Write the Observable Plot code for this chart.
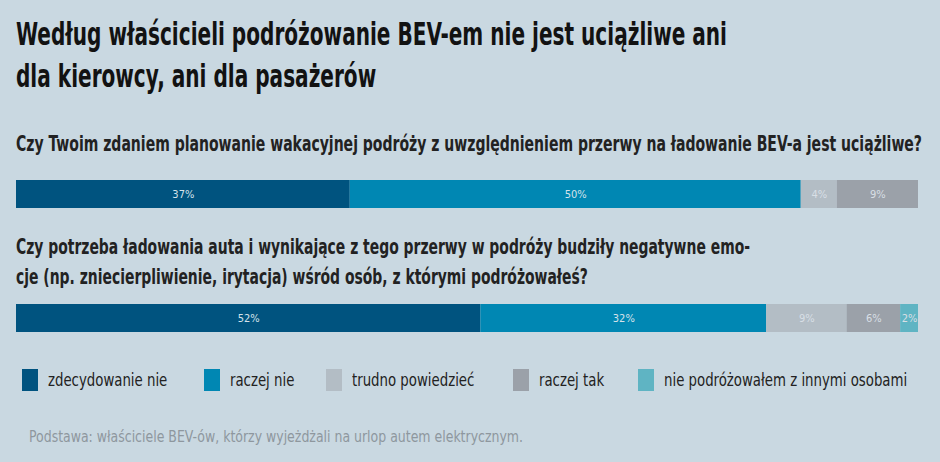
<!DOCTYPE html>
<html><head><meta charset="utf-8">
<script src="https://cdn.jsdelivr.net/npm/d3@7"></script>
<script src="https://cdn.jsdelivr.net/npm/@observablehq/plot@0.6"></script>
<style>
body{margin:0;background:#c9d8e1;}
#root{position:relative;width:940px;height:462px;background:#c9d8e1;overflow:hidden;font-family:"DejaVu Sans Condensed","Liberation Sans Narrow",sans-serif;}
.t{position:absolute;left:16px;white-space:nowrap;transform-origin:0 0;}
#title{top:13px;font-size:32px;font-weight:bold;line-height:42px;color:#121212;}
.q{font-size:22px;font-weight:bold;color:#222;line-height:30px;}
#q1{top:129px;}
#q2{top:232px;}
.chart{position:absolute;left:0;}
#c1{top:180px;}
#c2{top:304px;}
#legend{position:absolute;top:369px;left:22px;height:24px;}
.li{position:absolute;top:0;display:flex;align-items:center;font-size:17px;color:#222;white-space:nowrap;}
.li .tx{display:inline-block;transform:scaleX(0.87);transform-origin:0 50%;}
.sw{width:16px;height:22px;margin-right:10px;}
#cap{top:427px;font-size:16px;color:#8e979e;left:29px;}
</style></head>
<body><div id="root">
<div id="title" class="t" data-w="711"><span class="l1">Według właścicieli podróżowanie BEV-em nie jest uciążliwe ani</span><br>dla kierowcy, ani dla pasażerów</div>
<div id="q1" class="t q" data-w="906"><span class="l1">Czy Twoim zdaniem planowanie wakacyjnej podróży z uwzględnieniem przerwy na ładowanie BEV-a jest uciążliwe?</span></div>
<div id="q2" class="t q" data-w="734"><span class="l1">Czy potrzeba ładowania auta i wynikające z tego przerwy w podróży budziły negatywne emo-</span><br>cje (np. zniecierpliwienie, irytacja) wśród osób, z którymi podróżowałeś?</div>
<div id="c1" class="chart"></div>
<div id="c2" class="chart"></div>
<div id="legend"></div>
<div id="cap" class="t" data-w="494"><span class="l1">Podstawa: właściciele BEV-ów, którzy wyjeżdżali na urlop autem elektrycznym.</span></div>
</div>
<script>
const categories = ["zdecydowanie nie","raczej nie","trudno powiedzieć","raczej tak","nie podróżowałem z innymi osobami"];
const colors = ["#00537f","#0087b3","#b3bdc5","#9ba1a9","#5fb4c3"];
const labelColors = ["#d5e2ea","#d5e2ea","#d8dfe5","#d8dfe5","#d8dfe5"];
const q1Values = [37,50,4,9];
const q2Values = [52,32,9,6,2];
const legendX = [0,182,304,491,616];

function bar(values){
  const data = values.map((v,i)=>({cat:categories[i], v, label:v+"%", lc:labelColors[i]}));
  const total = d3.sum(values);
  return Plot.plot({
    width:940, height:28,
    marginLeft:16, marginRight:22, marginTop:0, marginBottom:0,
    x:{domain:[0,total], axis:null},
    y:{axis:null},
    color:{domain:categories, range:colors},
    style:{background:"transparent", fontFamily:"'DejaVu Sans Condensed',sans-serif"},
    marks:[
      Plot.barX(data, Plot.stackX({x:"v", fill:"cat", order:null})),
      Plot.text(data, Plot.stackX({x:"v", text:"label", fill:"lc", order:null, fontSize:11}))
    ]
  });
}
document.getElementById("c1").append(bar(q1Values));
document.getElementById("c2").append(bar(q2Values));

const lg = document.getElementById("legend");
categories.forEach((c,i)=>{
  const d = document.createElement("div");
  d.className="li"; d.style.left=legendX[i]+"px";
  d.innerHTML = `<span class="sw" style="background:${colors[i]}"></span><span class="tx">${c}</span>`;
  lg.append(d);
});

document.querySelectorAll("[data-w]").forEach(el=>{
  const w = el.querySelector(".l1").getBoundingClientRect().width;
  el.style.transform = `scaleX(${(+el.dataset.w)/w})`;
});
</script>
</body></html>
